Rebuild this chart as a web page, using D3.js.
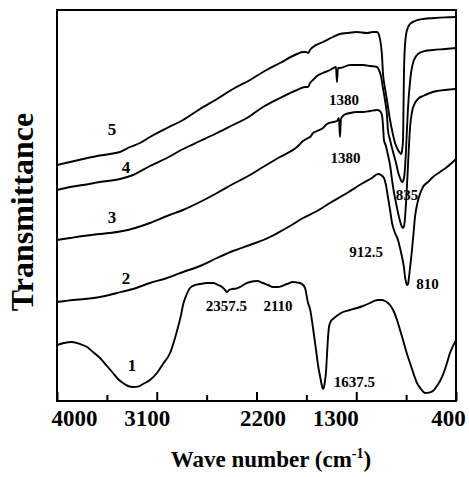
<!DOCTYPE html>
<html>
<head>
<meta charset="utf-8">
<script src="https://cdn.jsdelivr.net/npm/d3@7"></script>
<style>
  body { margin: 0; background: #fff; }
  text { font-family: "Liberation Serif", "Times New Roman", serif; font-weight: bold; fill: #000; }
</style>
</head>
<body>
<svg id="chart" width="469" height="477"></svg>
<script>
// IR spectra: [wave number (cm-1), transmittance (a.u.)]
const spectrum1 = [
  [4000,14],[3937,14.5],[3865,14.75],[3792,14.25],[3729,13.5],[3675,12.25],[3612,10.75],
  [3549,8.75],[3495,7],[3450,5.5],[3405,4.5],[3359,3.75],[3314,3.5],[3269,3.6],[3224,4.25],
  [3161,5.25],[3098,7],[3044,9.25],[2980,12],[2935,15.75],[2908,18.5],[2881,21.5],[2863,24],
  [2836,26.25],[2800,28.25],[2755,29],[2710,29.25],[2647,29.5],[2592,29.5],[2547,29],
  [2511,28.5],[2484,27.75],[2466,27.25],[2448,27.75],[2421,28],[2385,28.1],[2349,28.5],
  [2304,29.25],[2259,29.75],[2195,30],[2141,29.5],[2096,29],[2051,28.5],[2006,28.5],
  [1970,28.75],[1925,29.25],[1871,29.75],[1826,29.6],[1790,29.25],[1762,28.25],[1735,24.5],
  [1717,23],[1690,18.25],[1663,12.75],[1645,9],[1627,6.25],[1609,3.75],[1600,3],[1591,3.5],
  [1582,5],[1573,7.25],[1564,11.5],[1555,15.75],[1546,18.5],[1528,20],[1510,20.5],[1465,21.5],
  [1420,22.25],[1356,22.75],[1293,23.25],[1239,23.75],[1176,24.5],[1131,25.1],[1104,25.25],
  [1068,25.25],[1041,25],[1014,24.5],[995,24],[959,22.25],[932,20.25],[905,17.75],[878,15.25],
  [842,11.75],[815,9.5],[779,6.5],[752,4.5],[716,3],[680,2],[644,2.1],[608,2.5],[572,3.75],
  [526,6],[490,8.75],[454,12],[427,13.75],[400,15.25]
];
const spectrum2 = [
  [4000,24.75],[3928,25],[3856,25.25],[3747,25.5],[3612,26],[3459,27],[3314,28],[3161,29.5],
  [3008,30.75],[2863,32.25],[2710,33.75],[2556,35.75],[2412,37.5],[2259,39],[2078,41],
  [1961,42.75],[1898,43.75],[1780,45.75],[1654,47.5],[1537,49.5],[1383,52],[1239,54.5],
  [1158,55.75],[1104,56.75],[1077,56.5],[1050,55.75],[1032,54],[1014,51],[995,47.75],
  [977,44.5],[950,42],[923,40.25],[905,38.25],[887,36],[869,33.25],[860,31],[851,29.75],
  [842,29],[833,29.25],[824,31],[815,33.25],[797,37.75],[779,43.25],[770,46],[752,49],
  [725,51.75],[698,53.5],[653,54.75],[608,56],[545,57.25],[481,58.5],[400,60.5]
];
const spectrum3 = [
  [4000,40.25],[3883,40.75],[3765,41.25],[3612,41.75],[3405,42.5],[3296,43.25],[3161,44.5],
  [3008,46.25],[2863,47.75],[2710,49.75],[2556,52],[2412,54.25],[2259,56.5],[2141,58.5],
  [1988,61],[1835,63.5],[1780,65],[1735,65.75],[1717,66],[1690,67],[1654,67.5],[1600,68.25],
  [1564,69.25],[1510,69.75],[1474,70],[1456,70.75],[1447,66],[1438,70.5],[1411,71.5],
  [1356,72],[1293,72.25],[1239,72.25],[1176,72.5],[1113,72.75],[1086,72.5],[1068,71.5],
  [1059,69],[1050,65.25],[1032,63.75],[1014,61.5],[995,59],[977,55.25],[959,52],[941,49.5],
  [923,47],[905,45],[887,43.5],[878,43.25],[869,43.75],[860,45.75],[851,49.5],[842,54],
  [833,59],[824,64],[815,68.25],[797,72.25],[770,74.5],[734,75.75],[698,76.25],[635,77],
  [572,77.5],[499,77.75],[400,78]
];
const spectrum4 = [
  [4000,52.75],[3883,53.5],[3765,54],[3612,54.75],[3432,55.5],[3314,56.5],[3161,58.75],
  [3008,60.75],[2863,63],[2710,65],[2556,67],[2412,69],[2286,70.75],[2141,73.5],[1988,75.75],
  [1835,77.75],[1762,78.5],[1735,78.5],[1717,79.5],[1690,80.25],[1654,81.25],[1600,82],
  [1537,82.75],[1483,83.5],[1474,79.75],[1465,83.25],[1447,83.25],[1356,84],[1293,84],
  [1239,84],[1176,83.75],[1113,83.5],[1095,82.75],[1077,81.25],[1059,78.25],[1041,75.25],
  [1023,71.5],[1014,67.75],[995,65.25],[968,62.25],[941,59.5],[923,57.25],[905,55.75],
  [887,54.75],[878,55],[869,55.75],[860,58.25],[851,62.75],[842,68.25],[833,73.25],
  [815,79.75],[788,84.5],[743,86.75],[680,87.5],[608,87.75],[499,88],[400,88.25]
];
const spectrum5 = [
  [4000,59],[3883,59.75],[3765,60.5],[3639,61.25],[3522,61.75],[3432,62.25],[3341,63.5],
  [3251,64.5],[3161,66],[3008,68.25],[2863,70.25],[2710,73],[2556,75.5],[2412,78],
  [2259,80.25],[2141,82.25],[1988,84.5],[1835,86.75],[1780,87.25],[1753,87.25],[1735,87],
  [1717,87.75],[1690,88.5],[1600,89.75],[1510,91],[1447,91.75],[1383,92],[1293,92.25],
  [1203,92],[1149,92.25],[1113,92.25],[1095,91.5],[1077,89],[1068,86.5],[1059,82],
  [1041,78.25],[1023,75.25],[995,70.25],[968,66.5],[950,64.5],[923,62.75],[905,62],
  [896,61.75],[887,62.5],[878,65.25],[874,72.75],[869,82.75],[860,89],[842,92.75],
  [815,94.25],[770,95],[698,95.5],[590,95.75],[499,95.9],[400,96]
];

// curve numbers and band assignments, placed in data coordinates
const curveNames = ["1", "2", "3", "4", "5"];
const curveNamePos = [[3323,7.5],[3377,29.25],[3504,44.5],[3377,57],[3504,66.5]];
const bandLabels = ["1380", "1380", "835", "912.5", "810", "2357.5", "2110", "1637.5"];
const bandLabelPos = [[1411,74],[1397,59.5],[842,50.25],[1212,36],[657,28],[2471,22.5],[2006,22.5],[1316,3.5]];

const labelledTicks = [4000, 3100, 2200, 1300, 400];
const minorTicks = [3550, 2650, 1750, 850];

// --- drawing ---
const svg = d3.select("#chart");
const plotLeft = 57, plotRight = 456, plotTop = 10, plotBottom = 401;

const x = d3.scaleLinear().domain([4000, 400]).range([plotLeft, plotRight]);
const y = d3.scaleLinear().domain([0, 97.75]).range([plotBottom, plotTop]);

const line = d3.line()
  .x(d => x(d[0]))
  .y(d => y(d[1]))
  .curve(d3.curveMonotoneX);

svg.append("g")
  .selectAll("path")
  .data([spectrum1, spectrum2, spectrum3, spectrum4, spectrum5])
  .join("path")
  .attr("d", line)
  .attr("fill", "none")
  .attr("stroke", "#000")
  .attr("stroke-width", 1.9)
  .attr("stroke-linejoin", "round");

// frame
svg.append("rect")
  .attr("x", plotLeft).attr("y", plotTop)
  .attr("width", plotRight - plotLeft).attr("height", plotBottom - plotTop)
  .attr("fill", "none").attr("stroke", "#000").attr("stroke-width", 2);

// bottom axis: inward ticks, long ones labelled
const labelShift = { 4000: 17, 3100: -10, 2200: 6, 1300: -21, 400: -8 };
const axisMajor = svg.append("g")
  .attr("transform", `translate(0,${plotBottom})`)
  .call(d3.axisBottom(x).tickValues(labelledTicks).tickSizeInner(-9).tickSizeOuter(0).tickFormat(d3.format("d")));
axisMajor.select(".domain").remove();
axisMajor.selectAll(".tick line").attr("stroke", "#000").attr("stroke-width", 2);
axisMajor.selectAll(".tick text")
  .attr("y", 25).attr("dy", 0)
  .attr("x", d => labelShift[d] || 0)
  .style("font-family", "'Liberation Serif', serif")
  .style("font-weight", "bold")
  .style("font-size", "23px")
  .attr("fill", "#000");

const axisMinor = svg.append("g")
  .attr("transform", `translate(0,${plotBottom})`)
  .call(d3.axisBottom(x).tickValues(minorTicks).tickSizeInner(-6).tickSizeOuter(0).tickFormat(""));
axisMinor.select(".domain").remove();
axisMinor.selectAll(".tick line").attr("stroke", "#000").attr("stroke-width", 2);

// curve numbers
svg.append("g")
  .selectAll("text")
  .data(curveNames)
  .join("text")
  .attr("x", (d, i) => x(curveNamePos[i][0]))
  .attr("y", (d, i) => y(curveNamePos[i][1]))
  .attr("text-anchor", "middle")
  .style("font-size", "17px")
  .text(d => d);

// band labels
svg.append("g")
  .selectAll("text")
  .data(bandLabels)
  .join("text")
  .attr("x", (d, i) => x(bandLabelPos[i][0]))
  .attr("y", (d, i) => y(bandLabelPos[i][1]))
  .attr("text-anchor", "middle")
  .style("font-size", "15px")
  .text(d => d);

// axis titles
const xTitle = svg.append("text")
  .attr("x", 271).attr("y", 467)
  .attr("text-anchor", "middle")
  .style("font-size", "23px");
xTitle.append("tspan").text("Wave number (cm");
xTitle.append("tspan").attr("dy", -9).style("font-size", "14px").text("-1");
xTitle.append("tspan").attr("dy", 9).text(")");

svg.append("text")
  .attr("transform", "translate(33,212) rotate(-90)")
  .attr("text-anchor", "middle")
  .style("font-size", "32px")
  .text("Transmittance");
</script>
</body>
</html>
